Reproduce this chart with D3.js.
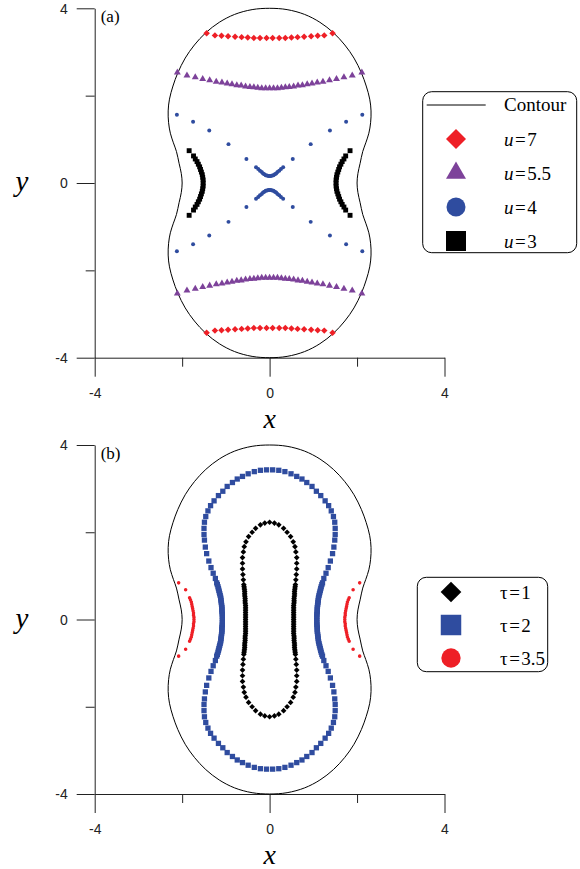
<!DOCTYPE html>
<html>
<head>
<meta charset="utf-8">
<script src="https://cdn.jsdelivr.net/npm/d3@7"></script>
<style>
  body { margin: 0; background: #fff; }
  svg { display: block; }
  .serif { font-family: 'Liberation Serif', 'Times New Roman', serif; }
</style>
</head>
<body>
<svg id="chart" width="580" height="869"></svg>
<script>
const RED = '#ee1f26';
const PURPLE = '#7d429a';
const BLUE = '#2f4c9f';
const BLACK = '#000';

const xTicks = [-4, -2, 0, 2, 4];
const yTicks = [-4, -2, 0, 2, 4];
const labelledTicks = [-4, 0, 4];

// outer boundary (same in both panels), clockwise from the top
const contour = [
  [0, 4.0], [0.4, 3.97], [0.8, 3.86], [1.15, 3.68], [1.46, 3.44], [1.72, 3.16], [1.93, 2.86], [2.1, 2.52],
  [2.21, 2.22], [2.29, 1.92], [2.32, 1.65], [2.31, 1.38], [2.27, 1.14], [2.2, 0.92], [2.13, 0.72], [2.07, 0.45],
  [2.02, 0.22], [2.0, 0],
  [2.02, -0.22], [2.07, -0.45], [2.13, -0.72], [2.2, -0.92], [2.27, -1.14], [2.31, -1.38], [2.32, -1.65],
  [2.29, -1.92], [2.21, -2.22], [2.1, -2.52], [1.93, -2.86], [1.72, -3.16], [1.46, -3.44], [1.15, -3.68],
  [0.8, -3.86], [0.4, -3.97], [0, -4.0],
  [-0.4, -3.97], [-0.8, -3.86], [-1.15, -3.68], [-1.46, -3.44], [-1.72, -3.16], [-1.93, -2.86], [-2.1, -2.52],
  [-2.21, -2.22], [-2.29, -1.92], [-2.32, -1.65], [-2.31, -1.38], [-2.27, -1.14], [-2.2, -0.92], [-2.13, -0.72],
  [-2.07, -0.45], [-2.02, -0.22], [-2.0, 0],
  [-2.02, 0.22], [-2.07, 0.45], [-2.13, 0.72], [-2.2, 0.92], [-2.27, 1.14], [-2.31, 1.38], [-2.32, 1.65],
  [-2.29, 1.92], [-2.21, 2.22], [-2.1, 2.52], [-1.93, 2.86], [-1.72, 3.16], [-1.46, 3.44], [-1.15, 3.68],
  [-0.8, 3.86], [-0.4, 3.97],
];

// panel (a)
const u7 = [
  [-1.44, 3.43], [-1.25, 3.38], [-1.1, 3.37], [-0.95, 3.36], [-0.79, 3.35], [-0.64, 3.34], [-0.5, 3.33],
  [-0.36, 3.32], [-0.22, 3.32], [-0.07, 3.32], [0.07, 3.32], [0.22, 3.32], [0.36, 3.32], [0.5, 3.33],
  [0.64, 3.34], [0.79, 3.35], [0.95, 3.36], [1.1, 3.37], [1.25, 3.38], [1.44, 3.43],
  [-1.44, -3.43], [-1.25, -3.38], [-1.1, -3.37], [-0.95, -3.36], [-0.79, -3.35], [-0.64, -3.34], [-0.5, -3.33],
  [-0.36, -3.32], [-0.22, -3.32], [-0.07, -3.32], [0.07, -3.32], [0.22, -3.32], [0.36, -3.32], [0.5, -3.33],
  [0.64, -3.34], [0.79, -3.35], [0.95, -3.36], [1.1, -3.37], [1.25, -3.38], [1.44, -3.43],
];

const u55 = [
  [-2.11, 2.53], [-1.89, 2.46], [-1.7, 2.42], [-1.53, 2.38], [-1.37, 2.35], [-1.22, 2.32], [-1.09, 2.3],
  [-0.97, 2.28], [-0.86, 2.26], [-0.75, 2.24], [-0.65, 2.23], [-0.55, 2.21], [-0.45, 2.2], [-0.36, 2.19],
  [-0.27, 2.18], [-0.18, 2.17], [-0.09, 2.17], [0, 2.17], [0.09, 2.17], [0.18, 2.17], [0.27, 2.18],
  [0.36, 2.19], [0.45, 2.2], [0.55, 2.21], [0.65, 2.23], [0.75, 2.24], [0.86, 2.26], [0.97, 2.28],
  [1.09, 2.3], [1.22, 2.32], [1.37, 2.35], [1.53, 2.38], [1.7, 2.42], [1.89, 2.46], [2.11, 2.53],
  [-2.11, -2.53], [-1.89, -2.46], [-1.7, -2.42], [-1.53, -2.38], [-1.37, -2.35], [-1.22, -2.32], [-1.09, -2.3],
  [-0.97, -2.28], [-0.86, -2.26], [-0.75, -2.24], [-0.65, -2.23], [-0.55, -2.21], [-0.45, -2.2], [-0.36, -2.19],
  [-0.27, -2.18], [-0.18, -2.17], [-0.09, -2.17], [0, -2.17], [0.09, -2.17], [0.18, -2.17], [0.27, -2.18],
  [0.36, -2.19], [0.45, -2.2], [0.55, -2.21], [0.65, -2.23], [0.75, -2.24], [0.86, -2.26], [0.97, -2.28],
  [1.09, -2.3], [1.22, -2.32], [1.37, -2.35], [1.53, -2.38], [1.7, -2.42], [1.89, -2.46], [2.11, -2.53],
];

const u4 = [
  [-2.12, 1.56], [-1.75, 1.4], [-1.38, 1.2], [-0.94, 0.89], [-0.53, 0.55], [-0.31, 0.36], [-0.26, 0.32],
  [-0.22, 0.28], [-0.18, 0.25], [-0.15, 0.22], [-0.12, 0.2], [-0.09, 0.18], [-0.06, 0.17], [-0.03, 0.16],
  [0, 0.16], [0.03, 0.16], [0.06, 0.17], [0.09, 0.18], [0.12, 0.2], [0.15, 0.22], [0.18, 0.25], [0.22, 0.28],
  [0.26, 0.32], [0.31, 0.36], [0.53, 0.55], [0.94, 0.89], [1.38, 1.2], [1.75, 1.4], [2.12, 1.56],
  [-2.12, -1.56], [-1.75, -1.4], [-1.38, -1.2], [-0.94, -0.89], [-0.53, -0.55], [-0.31, -0.36], [-0.26, -0.32],
  [-0.22, -0.28], [-0.18, -0.25], [-0.15, -0.22], [-0.12, -0.2], [-0.09, -0.18], [-0.06, -0.17], [-0.03, -0.16],
  [0, -0.16], [0.03, -0.16], [0.06, -0.17], [0.09, -0.18], [0.12, -0.2], [0.15, -0.22], [0.18, -0.25],
  [0.22, -0.28], [0.26, -0.32], [0.31, -0.36], [0.53, -0.55], [0.94, -0.89], [1.38, -1.2], [1.75, -1.4],
  [2.12, -1.56],
];

const u3 = [
  [-1.84, 0.74], [-1.74, 0.62], [-1.7, 0.55], [-1.66, 0.49], [-1.63, 0.43], [-1.6, 0.37], [-1.58, 0.31],
  [-1.56, 0.25], [-1.54, 0.19], [-1.53, 0.13], [-1.52, 0.07], [-1.52, 0], [-1.52, -0.07], [-1.53, -0.13],
  [-1.54, -0.19], [-1.56, -0.25], [-1.58, -0.31], [-1.6, -0.37], [-1.63, -0.43], [-1.66, -0.49],
  [-1.7, -0.55], [-1.74, -0.62], [-1.84, -0.74],
  [1.84, 0.74], [1.74, 0.62], [1.7, 0.55], [1.66, 0.49], [1.63, 0.43], [1.6, 0.37], [1.58, 0.31],
  [1.56, 0.25], [1.54, 0.19], [1.53, 0.13], [1.52, 0.07], [1.52, 0], [1.52, -0.07], [1.53, -0.13],
  [1.54, -0.19], [1.56, -0.25], [1.58, -0.31], [1.6, -0.37], [1.63, -0.43], [1.66, -0.49],
  [1.7, -0.55], [1.74, -0.62], [1.84, -0.74],
];

// panel (b)
const tau1 = [
  // right side, top to bottom
  [0, 2.23], [0.11, 2.21], [0.21, 2.17], [0.32, 2.09], [0.4, 2.0], [0.48, 1.9], [0.54, 1.78], [0.58, 1.67],
  [0.6, 1.55], [0.62, 1.42], [0.62, 1.29], [0.62, 1.16], [0.61, 1.03], [0.6, 0.91], [0.59, 0.8], [0.585, 0.76],
  [0.58, 0.72], [0.575, 0.68], [0.57, 0.64], [0.57, 0.6], [0.57, 0.56], [0.565, 0.52], [0.56, 0.48], [0.56, 0.44],
  [0.56, 0.4], [0.555, 0.36], [0.55, 0.32], [0.55, 0.28], [0.55, 0.24], [0.55, 0.2], [0.55, 0.16], [0.55, 0.12],
  [0.55, 0.08], [0.55, 0.04], [0.55, 0], [0.55, -0.04], [0.55, -0.08], [0.55, -0.12], [0.55, -0.16],
  [0.55, -0.2], [0.55, -0.24], [0.55, -0.28], [0.55, -0.32], [0.555, -0.36], [0.56, -0.4], [0.56, -0.44],
  [0.56, -0.48], [0.565, -0.52], [0.57, -0.56], [0.57, -0.6], [0.57, -0.64], [0.575, -0.68], [0.58, -0.72],
  [0.585, -0.76], [0.59, -0.8], [0.6, -0.91], [0.61, -1.03], [0.62, -1.16], [0.62, -1.29], [0.62, -1.42],
  [0.6, -1.55], [0.58, -1.67], [0.54, -1.78], [0.48, -1.9], [0.4, -2.0], [0.32, -2.09], [0.21, -2.17],
  [0.11, -2.21], [0, -2.23],
  // left side, bottom to top
  [-0.11, -2.21], [-0.21, -2.17], [-0.32, -2.09], [-0.4, -2.0], [-0.48, -1.9], [-0.54, -1.78], [-0.58, -1.67],
  [-0.6, -1.55], [-0.62, -1.42], [-0.62, -1.29], [-0.62, -1.16], [-0.61, -1.03], [-0.6, -0.91], [-0.59, -0.8],
  [-0.585, -0.76], [-0.58, -0.72], [-0.575, -0.68], [-0.57, -0.64], [-0.57, -0.6], [-0.57, -0.56],
  [-0.565, -0.52], [-0.56, -0.48], [-0.56, -0.44], [-0.56, -0.4], [-0.555, -0.36], [-0.55, -0.32],
  [-0.55, -0.28], [-0.55, -0.24], [-0.55, -0.2], [-0.55, -0.16], [-0.55, -0.12], [-0.55, -0.08], [-0.55, -0.04],
  [-0.55, 0], [-0.55, 0.04], [-0.55, 0.08], [-0.55, 0.12], [-0.55, 0.16], [-0.55, 0.2], [-0.55, 0.24],
  [-0.55, 0.28], [-0.55, 0.32], [-0.555, 0.36], [-0.56, 0.4], [-0.56, 0.44], [-0.56, 0.48], [-0.565, 0.52],
  [-0.57, 0.56], [-0.57, 0.6], [-0.57, 0.64], [-0.575, 0.68], [-0.58, 0.72], [-0.585, 0.76], [-0.59, 0.8],
  [-0.6, 0.91], [-0.61, 1.03], [-0.62, 1.16], [-0.62, 1.29], [-0.62, 1.42], [-0.6, 1.55], [-0.58, 1.67],
  [-0.54, 1.78], [-0.48, 1.9], [-0.4, 2.0], [-0.32, 2.09], [-0.21, 2.17], [-0.11, 2.21],
];

const tau2 = [
  // right side, top to bottom
  [0.07, 3.43], [0.21, 3.42], [0.35, 3.39], [0.49, 3.34], [0.62, 3.28], [0.74, 3.22], [0.85, 3.14], [0.97, 3.05],
  [1.07, 2.94], [1.17, 2.84], [1.27, 2.72], [1.35, 2.61], [1.41, 2.49], [1.46, 2.36], [1.49, 2.23], [1.5, 2.09],
  [1.5, 1.95], [1.49, 1.82], [1.47, 1.66], [1.44, 1.51], [1.39, 1.34], [1.34, 1.19], [1.29, 1.06], [1.24, 0.94],
  [1.21, 0.84], [1.195, 0.8], [1.18, 0.75], [1.17, 0.71], [1.16, 0.67], [1.15, 0.63], [1.14, 0.59], [1.13, 0.55],
  [1.12, 0.51], [1.115, 0.47], [1.11, 0.43], [1.105, 0.39], [1.1, 0.35], [1.095, 0.31], [1.09, 0.27],
  [1.09, 0.23], [1.09, 0.19], [1.085, 0.15], [1.08, 0.11], [1.08, 0.07], [1.08, 0.03],
  [1.08, -0.03], [1.08, -0.07], [1.08, -0.11], [1.085, -0.15], [1.09, -0.19], [1.09, -0.23], [1.09, -0.27],
  [1.095, -0.31], [1.1, -0.35], [1.105, -0.39], [1.11, -0.43], [1.115, -0.47], [1.12, -0.51], [1.13, -0.55],
  [1.14, -0.59], [1.15, -0.63], [1.16, -0.67], [1.17, -0.71], [1.18, -0.75], [1.195, -0.8], [1.21, -0.84],
  [1.24, -0.94], [1.29, -1.06], [1.34, -1.19], [1.39, -1.34], [1.44, -1.51], [1.47, -1.66], [1.49, -1.82],
  [1.5, -1.95], [1.5, -2.09], [1.49, -2.23], [1.46, -2.36], [1.41, -2.49], [1.35, -2.61], [1.27, -2.72],
  [1.17, -2.84], [1.07, -2.94], [0.97, -3.05], [0.85, -3.14], [0.74, -3.22], [0.62, -3.28], [0.49, -3.34],
  [0.35, -3.39], [0.21, -3.42], [0.07, -3.43],
  // left side, bottom to top
  [-0.07, -3.43], [-0.21, -3.42], [-0.35, -3.39], [-0.49, -3.34], [-0.62, -3.28], [-0.74, -3.22],
  [-0.85, -3.14], [-0.97, -3.05], [-1.07, -2.94], [-1.17, -2.84], [-1.27, -2.72], [-1.35, -2.61],
  [-1.41, -2.49], [-1.46, -2.36], [-1.49, -2.23], [-1.5, -2.09], [-1.5, -1.95], [-1.49, -1.82], [-1.47, -1.66],
  [-1.44, -1.51], [-1.39, -1.34], [-1.34, -1.19], [-1.29, -1.06], [-1.24, -0.94], [-1.21, -0.84],
  [-1.195, -0.8], [-1.18, -0.75], [-1.17, -0.71], [-1.16, -0.67], [-1.15, -0.63], [-1.14, -0.59],
  [-1.13, -0.55], [-1.12, -0.51], [-1.115, -0.47], [-1.11, -0.43], [-1.105, -0.39], [-1.1, -0.35],
  [-1.095, -0.31], [-1.09, -0.27], [-1.09, -0.23], [-1.09, -0.19], [-1.085, -0.15], [-1.08, -0.11],
  [-1.08, -0.07], [-1.08, -0.03],
  [-1.08, 0.03], [-1.08, 0.07], [-1.08, 0.11], [-1.085, 0.15], [-1.09, 0.19], [-1.09, 0.23], [-1.09, 0.27],
  [-1.095, 0.31], [-1.1, 0.35], [-1.105, 0.39], [-1.11, 0.43], [-1.115, 0.47], [-1.12, 0.51], [-1.13, 0.55],
  [-1.14, 0.59], [-1.15, 0.63], [-1.16, 0.67], [-1.17, 0.71], [-1.18, 0.75], [-1.195, 0.8], [-1.21, 0.84],
  [-1.24, 0.94], [-1.29, 1.06], [-1.34, 1.19], [-1.39, 1.34], [-1.44, 1.51], [-1.47, 1.66], [-1.49, 1.82],
  [-1.5, 1.95], [-1.5, 2.09], [-1.49, 2.23], [-1.46, 2.36], [-1.41, 2.49], [-1.35, 2.61], [-1.27, 2.72],
  [-1.17, 2.84], [-1.07, 2.94], [-0.97, 3.05], [-0.85, 3.14], [-0.74, 3.22], [-0.62, 3.28], [-0.49, 3.34],
  [-0.35, 3.39], [-0.21, 3.42], [-0.07, 3.43],
];

const tau35 = [
  [-2.08, 0.84], [-1.92, 0.68], [-1.83, 0.5], [-1.81, 0.45], [-1.79, 0.4], [-1.78, 0.35], [-1.77, 0.3],
  [-1.76, 0.25], [-1.75, 0.2], [-1.74, 0.15], [-1.74, 0.1], [-1.73, 0.05], [-1.73, 0], [-1.73, -0.05],
  [-1.74, -0.1], [-1.74, -0.15], [-1.75, -0.2], [-1.76, -0.25], [-1.77, -0.3], [-1.78, -0.35], [-1.79, -0.4],
  [-1.81, -0.45], [-1.83, -0.5], [-1.92, -0.68], [-2.08, -0.84],
  [2.06, 0.84], [1.91, 0.68], [1.82, 0.5], [1.8, 0.45], [1.78, 0.4], [1.77, 0.35], [1.76, 0.3],
  [1.75, 0.25], [1.74, 0.2], [1.73, 0.15], [1.73, 0.1], [1.72, 0.05], [1.72, 0], [1.72, -0.05],
  [1.73, -0.1], [1.73, -0.15], [1.74, -0.2], [1.75, -0.25], [1.76, -0.3], [1.77, -0.35], [1.78, -0.4],
  [1.8, -0.45], [1.82, -0.5], [1.91, -0.68], [2.06, -0.84],
];

const legendALabels = [['u', '7'], ['u', '5.5'], ['u', '4'], ['u', '3']];
const legendBLabels = [['τ', '1'], ['τ', '2'], ['τ', '3.5']];

const svg = d3.select('#chart');

const x = d3.scaleLinear().domain([-4, 4]).range([94.7, 444.5]);

const symbolTypes = {
  diamond: d3.symbolSquare,
  square: d3.symbolSquare,
  triangle: d3.symbolTriangle,
  circle: d3.symbolCircle,
};
const symbolPath = (type, size) => d3.symbol(symbolTypes[type], size)();
const rotation = type => (type === 'diamond' ? ' rotate(45)' : '');

const drawAxes = (g, y) => {
  const xAxis = g
    .append('g')
    .attr('transform', `translate(0,${y(-4)})`)
    .call(
      d3
        .axisBottom(x)
        .tickValues(xTicks)
        .tickSizeOuter(0)
        .tickFormat(d => (labelledTicks.includes(d) ? String(d) : '')),
    );
  xAxis.selectAll('.tick line').attr('y2', d => (labelledTicks.includes(d) ? 19 : 9));
  xAxis.selectAll('.tick text').attr('y', 35).attr('dy', '0.35em');

  const yAxis = g
    .append('g')
    .attr('transform', `translate(${x(-4)},0)`)
    .call(
      d3
        .axisLeft(y)
        .tickValues(yTicks)
        .tickSizeOuter(0)
        .tickFormat(d => (labelledTicks.includes(d) ? String(d) : '')),
    );
  yAxis.selectAll('.tick line').attr('x2', d => (labelledTicks.includes(d) ? -18 : -9));
  yAxis.selectAll('.tick text').attr('x', -27).attr('dy', '0.35em');

  [xAxis, yAxis].forEach(a =>
    a
      .attr('color', '#222')
      .attr('font-family', "'Liberation Sans', Arial, sans-serif")
      .attr('font-size', 14),
  );

  g.append('text')
    .attr('class', 'serif')
    .attr('x', x(0))
    .attr('y', y(-4) + 70)
    .attr('text-anchor', 'middle')
    .attr('font-style', 'italic')
    .attr('font-size', 28)
    .text('x');
  g.append('text')
    .attr('class', 'serif')
    .attr('x', 22)
    .attr('y', y(0) + 8)
    .attr('text-anchor', 'middle')
    .attr('font-style', 'italic')
    .attr('font-size', 29)
    .text('y');
};

const drawPanel = ({ y, tag, series, legend }) => {
  const g = svg.append('g');
  drawAxes(g, y);

  g.append('text')
    .attr('class', 'serif')
    .attr('x', x(-4) + 6)
    .attr('y', y(4) + 14)
    .attr('font-size', 17)
    .text(tag);

  g.append('path')
    .datum(contour)
    .attr(
      'd',
      d3
        .line()
        .x(d => x(d[0]))
        .y(d => y(d[1]))
        .curve(d3.curveCatmullRomClosed),
    )
    .attr('fill', 'none')
    .attr('stroke', BLACK)
    .attr('stroke-width', 1);

  for (const s of series) {
    g.append('g')
      .selectAll('path')
      .data(s.data)
      .join('path')
      .attr('d', symbolPath(s.type, s.size))
      .attr('transform', d => `translate(${x(d[0])},${y(d[1])})${rotation(s.type)}`)
      .attr('fill', s.color);
  }

  // legend box
  const lg = g.append('g');
  lg.append('rect')
    .attr('x', legend.box[0])
    .attr('y', legend.box[1])
    .attr('width', legend.box[2])
    .attr('height', legend.box[3])
    .attr('rx', 9)
    .attr('fill', '#fff')
    .attr('stroke', BLACK)
    .attr('stroke-width', 1);

  let row = legend.top;
  if (legend.contour) {
    lg.append('line')
      .attr('x1', legend.box[0] + 4)
      .attr('x2', legend.box[0] + 63)
      .attr('y1', row)
      .attr('y2', row)
      .attr('stroke', BLACK);
    lg.append('text')
      .attr('class', 'serif')
      .attr('x', legend.textX)
      .attr('y', row + 6)
      .attr('font-size', 19)
      .text('Contour');
    row += legend.step;
  }
  series.forEach((s, i) => {
    const cy = row + i * legend.step;
    lg.append('path')
      .attr('d', symbolPath(s.type, s.legendSize))
      .attr('transform', `translate(${legend.symbolX},${cy})${rotation(s.type)}`)
      .attr('fill', s.color);
    const [name, value] = legend.labels[i];
    const t = lg
      .append('text')
      .attr('class', 'serif')
      .attr('x', legend.textX)
      .attr('y', cy + 6.5)
      .attr('font-size', 19);
    t.append('tspan')
      .attr('font-style', name === 'u' ? 'italic' : 'normal')
      .text(name);
    t.append('tspan').attr('dx', 1.5).text('=');
    t.append('tspan').attr('dx', 1.5).text(value);
  });
};

drawPanel({
  y: d3.scaleLinear().domain([-4, 4]).range([357.7, 8.3]),
  tag: '(a)',
  series: [
    { data: u7, type: 'diamond', size: 21, legendSize: 200, color: RED },
    { data: u55, type: 'triangle', size: 21, legendSize: 173, color: PURPLE },
    { data: u4, type: 'circle', size: 12.5, legendSize: 283, color: BLUE },
    { data: u3, type: 'square', size: 24, legendSize: 400, color: BLACK },
  ],
  legend: {
    box: [422.7, 91.7, 154, 161],
    contour: true,
    top: 105,
    step: 34,
    symbolX: 456,
    textX: 504,
    labels: legendALabels,
  },
});

drawPanel({
  y: d3.scaleLinear().domain([-4, 4]).range([794, 445]),
  tag: '(b)',
  series: [
    { data: tau1, type: 'diamond', size: 16, legendSize: 214, color: BLACK },
    { data: tau2, type: 'square', size: 28, legendSize: 420, color: BLUE },
    { data: tau35, type: 'circle', size: 10, legendSize: 293, color: RED },
  ],
  legend: {
    box: [417.3, 577.3, 130.4, 94.4],
    contour: false,
    top: 592,
    step: 33,
    symbolX: 451,
    textX: 500,
    labels: legendBLabels,
  },
});
</script>
</body>
</html>
